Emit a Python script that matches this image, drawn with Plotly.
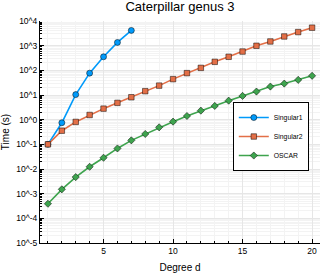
import plotly.graph_objects as go

degrees_s1 = [1, 2, 3, 4, 5, 6, 7]
singular1 = [0.1, 0.75, 10.4, 77, 354, 1350, 4150]

degrees = list(range(1, 21))
singular2 = [0.1, 0.357, 0.81, 1.55, 2.8, 4.8, 8.1, 14.3, 24, 44,
             77, 126, 221, 354, 578, 990, 1480, 2360, 3550, 5350]
oscar = [3.9e-4, 1.5e-3, 4.7e-3, 0.0123, 0.0285, 0.068, 0.145, 0.263, 0.49, 0.83,
         1.41, 2.32, 3.6, 5.9, 9.2, 13.8, 22, 29, 41, 60]

ytick_exps = list(range(-5, 5))
ytick_vals = [10.0 ** e for e in ytick_exps]
ytick_text = ["10^%d" % e for e in ytick_exps]
yminor_vals = [m * 10.0 ** e for e in range(-5, 4) for m in range(2, 10)]
xtick_vals = [5, 10, 15, 20]

font = "Liberation Sans"
mline = dict(color="rgba(0,0,0,0.7)", width=0.7)

fig = go.Figure()
fig.add_trace(go.Scatter(x=degrees_s1, y=singular1, name="Singular1", mode="lines+markers",
                         line=dict(color="#009AFA", width=1.6),
                         marker=dict(symbol="circle", size=6, color="#009AFA", line=mline)))
fig.add_trace(go.Scatter(x=degrees, y=singular2, name="Singular2", mode="lines+markers",
                         line=dict(color="#E36F47", width=1.6),
                         marker=dict(symbol="square", size=5.5, color="#E36F47", line=mline)))
fig.add_trace(go.Scatter(x=degrees, y=oscar, name="OSCAR", mode="lines+markers",
                         line=dict(color="#3EA44E", width=1.6),
                         marker=dict(symbol="diamond", size=5.5, color="#3EA44E", line=mline)))

fig.update_layout(
    width=327, height=273,
    margin=dict(l=40, r=7, t=21, b=30, autoexpand=False),
    paper_bgcolor="white", plot_bgcolor="white",
    font=dict(family=font, color="black"),
    title=dict(text="Caterpillar genus 3", xref="paper", x=0.5, xanchor="center",
               yref="container", y=1 - 2.0 / 273, yanchor="top",
               font=dict(size=13, family=font)),
    showlegend=True,
    legend=dict(x=0.96, y=0.635, xanchor="right", yanchor="top",
                bgcolor="white", bordercolor="black", borderwidth=1,
                font=dict(size=6.8, family=font), tracegroupgap=0,
                itemwidth=30),
)
fig.update_xaxes(
    range=[0.43, 20.57], tickmode="array", tickvals=xtick_vals,
    ticks="inside", ticklen=4, tickcolor="black", automargin=False,
    showline=True, linecolor="black", linewidth=1, mirror=False,
    showgrid=True, gridcolor="#e6e6e6", gridwidth=0.5, zeroline=False,
    tickfont=dict(size=8.5, family=font),
    title=dict(text="Degree d", font=dict(size=10, family=font)),
    minor=dict(tickmode="array", tickvals=degrees, ticks="inside", ticklen=2,
               tickcolor="black", showgrid=True, gridcolor="#f3f3f3", gridwidth=0.5),
)
fig.update_yaxes(
    type="log", range=[-5, 4], tickmode="array", tickvals=ytick_vals, ticktext=ytick_text,
    ticks="inside", ticklen=4, tickcolor="black", automargin=False,
    showline=True, linecolor="black", linewidth=1, mirror=False,
    showgrid=True, gridcolor="#e6e6e6", gridwidth=0.5, zeroline=False,
    tickfont=dict(size=8.5, family=font),
    title=dict(text="Time (s)", font=dict(size=10, family=font)),
    minor=dict(tickmode="array", tickvals=yminor_vals, ticks="inside", ticklen=2,
               tickcolor="black", showgrid=True, gridcolor="#f3f3f3", gridwidth=0.5),
)

fig.write_html("out.html", config={"displayModeBar": False},
               post_script="document.body.style.margin='0';document.body.style.padding='0';")
